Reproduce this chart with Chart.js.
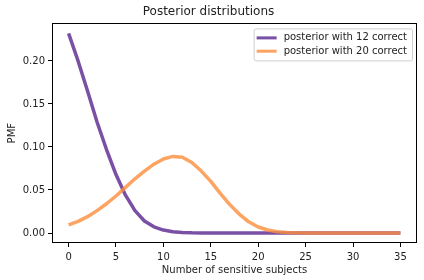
<!DOCTYPE html>
<html>
<head>
<meta charset="utf-8">
<script src="https://cdn.jsdelivr.net/npm/chart.js@4"></script>
<style>
  body { margin: 0; background: #fff; }
  canvas { display: block; }
</style>
</head>
<body>
<canvas id="myChart" width="424" height="280"></canvas>
<script>
// datos
const subjects = [0,1,2,3,4,5,6,7,8,9,10,11,12,13,14,15,16,17,18,19,20,21,22,23,24,25,26,27,28,29,30,31,32,33,34,35]
const post12 = [0.232,0.200,0.165,0.129,0.097,0.068,0.044,0.026,0.014,0.0072,0.0034,0.0015,0.0006,0.0002,0.0001,0,0,0,0,0,0,0,0,0,0,0,0,0,0,0,0,0,0,0,0,0]
const post20 = [0.0095,0.0135,0.019,0.026,0.034,0.043,0.053,0.063,0.072,0.080,0.086,0.089,0.088,0.082,0.072,0.060,0.046,0.033,0.022,0.013,0.007,0.0035,0.0015,0.0006,0.0002,0.0001,0,0,0,0,0,0,0,0,0,0]
const xTicks = [0,5,10,15,20,25,30,35]
const yTicks = [0,0.05,0.10,0.15,0.20]
const labels12 = "posterior with 12 correct"
const labels20 = "posterior with 20 correct"

const font = "'DejaVu Sans', sans-serif"
const purple = "rgba(106,61,154,0.9)"
const orange = "rgba(253,141,60,0.8)"

function puntos(serie) {
  return subjects.map((s, i) => ({ x: s, y: serie[i] }))
}

// marco y leyenda dentro del area
const marco = {
  id: "marco",
  afterDraw(chart) {
    const ctx = chart.ctx
    const a = chart.chartArea
    ctx.save()
    ctx.strokeStyle = "#000"
    ctx.lineWidth = 1
    ctx.strokeRect(Math.round(a.left) + 0.5, Math.round(a.top) + 0.5,
      Math.round(a.right - a.left) - 1, Math.round(a.bottom - a.top) - 1)

    const items = [chart.data.datasets[0], chart.data.datasets[1]]
    ctx.font = "10px " + font
    let tw = 0
    items.forEach(d => { tw = Math.max(tw, ctx.measureText(d.label).width) })
    const w = 3 + 20 + 7 + tw + 5
    const h = 32
    const x0 = a.right - 5 - w
    const y0 = a.top + 5
    ctx.fillStyle = "rgba(255,255,255,0.8)"
    ctx.strokeStyle = "#d0d0d0"
    ctx.beginPath()
    ctx.roundRect(x0 + 0.5, y0 + 0.5, w, h, 2)
    ctx.fill()
    ctx.stroke()
    items.forEach((d, i) => {
      const yy = y0 + 9.5 + i * 13.3
      ctx.strokeStyle = d.borderColor
      ctx.lineWidth = 3
      ctx.beginPath()
      ctx.moveTo(x0 + 3, yy)
      ctx.lineTo(x0 + 23, yy)
      ctx.stroke()
      ctx.fillStyle = "#222"
      ctx.textBaseline = "middle"
      ctx.textAlign = "left"
      ctx.fillText(d.label, x0 + 30, yy)
    })
    ctx.restore()
  }
}

const config = {
  type: "line",
  data: {
    datasets: [
      { label: labels12, data: puntos(post12), borderColor: purple, borderWidth: 3.5, pointRadius: 0, tension: 0, order: 1, borderJoinStyle: "round" },
      { label: labels20, data: puntos(post20), borderColor: orange, borderWidth: 3.5, pointRadius: 0, tension: 0, order: 0, borderJoinStyle: "round" }
    ]
  },
  options: {
    responsive: false,
    animation: false,
    layout: { padding: { left: 0, right: 7, top: 0, bottom: 0 } },
    plugins: {
      legend: { display: false },
      tooltip: { enabled: false },
      title: {
        display: true,
        text: "Posterior distributions",
        color: "#222",
        font: { family: font, size: 12, weight: "normal" },
        padding: { top: 5, bottom: 4 }
      }
    },
    scales: {
      x: {
        type: "linear",
        min: -1.75,
        max: 36.75,
        afterBuildTicks(s) { s.ticks = xTicks.map(v => ({ value: v })) },
        afterFit(s) { s.height = 37 },
        grid: { drawOnChartArea: false, drawTicks: true, tickLength: 4, color: "#000" },
        border: { display: false },
        ticks: { color: "#222", font: { family: font, size: 10 }, padding: 4, maxRotation: 0, callback: v => v },
        title: { display: true, text: "Number of sensitive subjects", color: "#222", font: { family: font, size: 10 }, padding: { top: 0, bottom: 4 } }
      },
      y: {
        type: "linear",
        min: -0.0116,
        max: 0.2436,
        afterBuildTicks(s) { s.ticks = yTicks.map(v => ({ value: v })) },
        afterFit(s) { s.width = 52 },
        grid: { drawOnChartArea: false, drawTicks: true, tickLength: 4, color: "#000" },
        border: { display: false },
        ticks: { color: "#222", font: { family: font, size: 10 }, padding: 3, callback: v => v.toFixed(2) },
        title: { display: true, text: "PMF", color: "#222", font: { family: font, size: 10 }, padding: { top: 6, bottom: 0 } }
      }
    }
  },
  plugins: [marco]
}

const chart = new Chart(document.getElementById("myChart"), config)
</script>
</body>
</html>
